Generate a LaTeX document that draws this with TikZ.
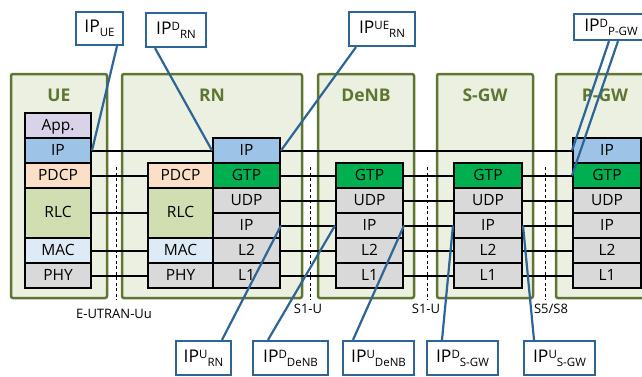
\documentclass[tikz,border=0pt]{standalone}
\usepackage{fontspec}
\setmainfont{Open Sans}
\definecolor{entline}{RGB}{95,117,50}
\definecolor{entfill}{RGB}{235,240,225}
\definecolor{tagblue}{RGB}{46,100,150}
\definecolor{appcol}{RGB}{217,210,233}
\definecolor{ipcol}{RGB}{157,195,230}
\definecolor{pdcpcol}{RGB}{251,223,199}
\definecolor{rlccol}{RGB}{209,222,178}
\definecolor{maccol}{RGB}{222,235,247}
\definecolor{greycol}{RGB}{217,217,217}
\definecolor{gtpcol}{RGB}{0,176,80}
\newcommand{\tagup}[1]{\raisebox{4.5pt}{\fontsize{11.5}{12}\selectfont #1}}
\newcommand{\tagdown}[1]{\raisebox{-3.5pt}{\fontsize{11.5}{12}\selectfont #1}}
\begin{document}
\begin{tikzpicture}[x=1pt,y=-1pt,
    entity/.style={draw=entline,fill=entfill,line width=2.5pt,rounded corners=2pt},
    title/.style={text=entline,font=\fontsize{17.5}{20}\selectfont\bfseries},
    layer/.style={draw,line width=2pt,minimum height=25pt,inner sep=0pt,
      text height=11pt,text depth=1.5pt,font=\fontsize{15.5}{17}\selectfont},
    tag/.style={draw=tagblue,line width=2.2pt,fill=white,minimum height=34pt,
      inner sep=0pt,font=\fontsize{17.5}{20}\selectfont},
    link/.style={line width=2pt},
    pointer/.style={draw=tagblue,line width=2.2pt},
    iface/.style={line width=0.8pt,dash pattern=on 3pt off 2.5pt},
    ifname/.style={font=\fontsize{13}{15}\selectfont}]
  \useasboundingbox (0,0) rectangle (642,376);

  % network elements
  \draw[entity] (11,74) rectangle (107,298);
  \draw[entity] (122,74) rectangle (302,298);
  \draw[entity] (318,74) rectangle (414,298);
  \draw[entity] (437,74) rectangle (533,298);
  \draw[entity] (556,74) rectangle (665,298);
  \node[title] (uet) at (59,95) {UE};
  \node[title] (rnt) at (212,95) {RN};
  \node[title] (denbt) at (366,95) {DeNB};
  \node[title] (sgwt) at (485,95) {S-GW};
  \node[title] (pgwt) at (605,95) {P-GW};

  % interfaces
  \draw[iface] (116,167) -- (116,300);
  \draw[iface] (310,167) -- (310,300);
  \draw[iface] (427,167) -- (427,300);
  \draw[iface] (545,167) -- (545,300);
  \node[ifname] (uu) at (114,314) {E-UTRAN-Uu};
  \node[ifname] (sa) at (308,309) {S1-U};
  \node[ifname] (sb) at (426,309) {S1-U};
  \node[ifname] (sc) at (551,309) {S5/S8};

  % UE stack
  \node[layer,fill=appcol,minimum width=66pt] (ueapp) at (58,125.5) {App.};
  \node[layer,fill=ipcol,minimum width=66pt] (ueip) at (58,150.5) {IP};
  \node[layer,fill=pdcpcol,minimum width=66pt] (uepdcp) at (58,175.5) {PDCP};
  \node[layer,fill=rlccol,minimum width=66pt,minimum height=50pt] (uerlc) at (58,213) {RLC};
  \node[layer,fill=maccol,minimum width=66pt] (uemac) at (58,250.5) {MAC};
  \node[layer,fill=greycol,minimum width=66pt] (uephy) at (58,275.5) {PHY};

  % RN stack
  \node[layer,fill=pdcpcol,minimum width=65pt] (rnpdcp) at (180.5,175.5) {PDCP};
  \node[layer,fill=rlccol,minimum width=65pt,minimum height=50pt] (rnrlc) at (180.5,213) {RLC};
  \node[layer,fill=maccol,minimum width=65pt] (rnmac) at (180.5,250.5) {MAC};
  \node[layer,fill=greycol,minimum width=65pt] (rnphy) at (180.5,275.5) {PHY};
  \node[layer,fill=ipcol,minimum width=67pt] (rnip) at (246.5,150.5) {IP};
  \node[layer,fill=gtpcol,minimum width=67pt] (rngtp) at (246.5,175.5) {GTP};
  \node[layer,fill=greycol,minimum width=67pt] (rnudp) at (246.5,200.5) {UDP};
  \node[layer,fill=greycol,minimum width=67pt] (rnipl) at (246.5,225.5) {IP};
  \node[layer,fill=greycol,minimum width=67pt] (rnl2) at (246.5,250.5) {L2};
  \node[layer,fill=greycol,minimum width=67pt] (rnl1) at (246.5,275.5) {L1};

  % DeNB stack
  \node[layer,fill=gtpcol,minimum width=67pt] (denbgtp) at (369.5,175.5) {GTP};
  \node[layer,fill=greycol,minimum width=67pt] (denbudp) at (369.5,200.5) {UDP};
  \node[layer,fill=greycol,minimum width=67pt] (denbip) at (369.5,225.5) {IP};
  \node[layer,fill=greycol,minimum width=67pt] (denbl2) at (369.5,250.5) {L2};
  \node[layer,fill=greycol,minimum width=67pt] (denbl1) at (369.5,275.5) {L1};

  % S-GW stack
  \node[layer,fill=gtpcol,minimum width=68pt] (sgwgtp) at (488,175.5) {GTP};
  \node[layer,fill=greycol,minimum width=68pt] (sgwudp) at (488,200.5) {UDP};
  \node[layer,fill=greycol,minimum width=68pt] (sgwip) at (488,225.5) {IP};
  \node[layer,fill=greycol,minimum width=68pt] (sgwl2) at (488,250.5) {L2};
  \node[layer,fill=greycol,minimum width=68pt] (sgwl1) at (488,275.5) {L1};

  % P-GW stack
  \node[layer,fill=ipcol,minimum width=68pt] (pgwip) at (607,150.5) {IP};
  \node[layer,fill=gtpcol,minimum width=68pt] (pgwgtp) at (607,175.5) {GTP};
  \node[layer,fill=greycol,minimum width=68pt] (pgwudp) at (607,200.5) {UDP};
  \node[layer,fill=greycol,minimum width=68pt] (pgwip2) at (607,225.5) {IP};
  \node[layer,fill=greycol,minimum width=68pt] (pgwl2) at (607,250.5) {L2};
  \node[layer,fill=greycol,minimum width=68pt] (pgwl1) at (607,275.5) {L1};

  % peer links
  \begin{scope}[link]
    \draw (ueip) to (rnip);
    \draw (rnip) to (pgwip);
    \draw (uepdcp) to (rnpdcp);
    \draw (uerlc) to (rnrlc);
    \draw (uemac) to (rnmac);
    \draw (uephy) to (rnphy);
    \draw (rngtp) to (denbgtp);
    \draw (denbgtp) to (sgwgtp);
    \draw (sgwgtp) to (pgwgtp);
    \draw (rnudp) to (denbudp);
    \draw (denbudp) to (sgwudp);
    \draw (sgwudp) to (pgwudp);
    \draw (rnipl) to (denbip);
    \draw (denbip) to (sgwip);
    \draw (sgwip) to (pgwip2);
    \draw (rnl2) to (denbl2);
    \draw (denbl2) to (sgwl2);
    \draw (sgwl2) to (pgwl2);
    \draw (rnl1) to (denbl1);
    \draw (denbl1) to (sgwl1);
    \draw (sgwl1) to (pgwl1);
  \end{scope}

  % address tags
  \node[tag,minimum width=47pt,minimum height=33pt] (ipue) at (99.5,28.5) {IP\tagdown{UE}};
  \node[tag,minimum width=60pt] (ipdrn) at (176,30) {IP\tagup{D}\tagdown{RN}};
  \node[tag,minimum width=66pt] (ipuern) at (382,29) {IP\tagup{UE}\tagdown{RN}};
  \node[tag,minimum width=74pt,minimum height=26pt] (ipdpgw) at (611,27) {IP\tagup{D}\tagdown{P-GW}};
  \node[tag,minimum width=55pt] (ipurn) at (203.5,358) {IP\tagup{U}\tagdown{RN}};
  \node[tag,minimum width=75pt] (ipddenb) at (290.5,358) {IP\tagup{D}\tagdown{DeNB}};
  \node[tag,minimum width=71pt] (ipudenb) at (378.5,358) {IP\tagup{U}\tagdown{DeNB}};
  \node[tag,minimum width=71pt] (ipdsgw) at (462.5,358) {IP\tagup{D}\tagdown{S-GW}};
  \node[tag,minimum width=71pt] (ipusgw) at (559.5,358) {IP\tagup{U}\tagdown{S-GW}};

  \begin{scope}[pointer]
    \draw ([xshift=17.5pt]ipue.south) -- (ueip.east);
    \draw ([xshift=-21pt]ipdrn.south) -- (rnip.west);
    \draw ([xshift=-26pt]ipuern.south) -- (rnip.east);
    \draw ([xshift=-2pt]ipdpgw.south) -- (pgwip.west);
    \draw ([xshift=7pt]ipdpgw.south) -- (pgwgtp.west);
    \draw ([xshift=18.5pt]ipurn.north) -- (rnipl.east);
    \draw ([xshift=-22.5pt]ipddenb.north) -- (denbip.west);
    \draw ([xshift=-25.5pt]ipudenb.north) -- (denbip.east);
    \draw ([xshift=-20.5pt]ipdsgw.north) -- (sgwip.west);
    \draw ([xshift=-25.5pt]ipusgw.north) -- (sgwip.east);
  \end{scope}
\end{tikzpicture}
\end{document}
